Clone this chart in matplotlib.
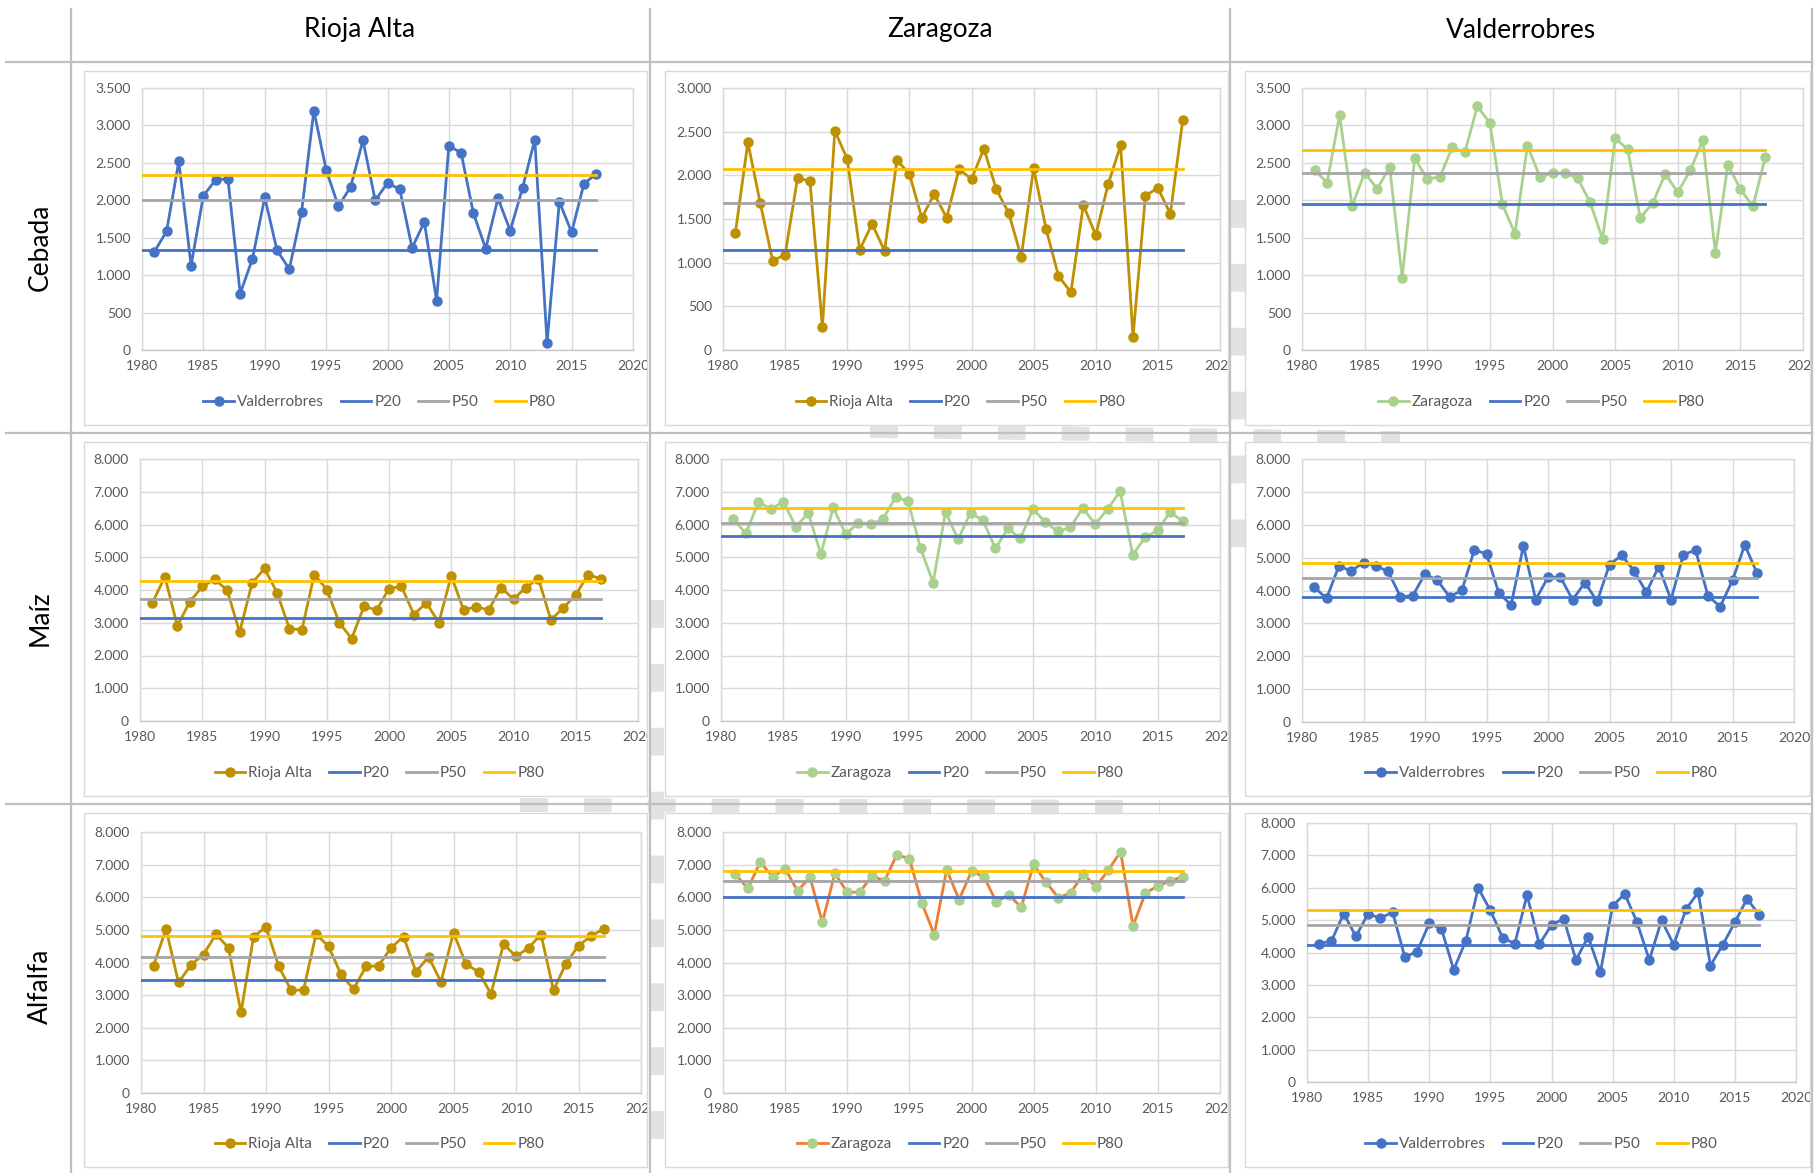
import matplotlib
matplotlib.use("Agg")
import matplotlib.pyplot as plt
from matplotlib.lines import Line2D
from matplotlib.patches import Rectangle
from matplotlib.ticker import FuncFormatter, MultipleLocator
from matplotlib.transforms import Bbox, TransformedBbox

plt.rcParams['font.family'] = ['Lato', 'DejaVu Sans']

# ---------------- data ----------------
years = list(range(1981, 2018))
pct_years = [1980, 2017]

col_titles = ["Rioja Alta", "Zaragoza", "Valderrobres"]
row_titles = ["Cebada", "Maíz", "Alfalfa"]
legend_names = [["Valderrobres", "Rioja Alta", "Zaragoza"],
                ["Rioja Alta", "Zaragoza", "Valderrobres"],
                ["Rioja Alta", "Zaragoza", "Valderrobres"]]

cebada_1 = [1310, 1585, 2520, 1127, 2062, 2271, 2289, 753, 1220, 2040,
            1331, 1082, 1844, 3197, 2409, 1919, 2182, 2801, 1999, 2231,
            2146, 1363, 1710, 659, 2730, 2632, 1826, 1354, 2026, 1594,
            2164, 2810, 98, 1982, 1572, 2218, 2356]
cebada_2 = [1345, 2377, 1682, 1020, 1093, 1972, 1930, 260, 2511, 2186,
            1147, 1445, 1135, 2171, 2018, 1514, 1785, 1514, 2072, 1957,
            2305, 1838, 1567, 1066, 2083, 1387, 848, 661, 1659, 1315,
            1900, 2343, 153, 1766, 1857, 1559, 2630]
cebada_3 = [2408, 2234, 3139, 1922, 2368, 2154, 2439, 963, 2559, 2287,
            2310, 2707, 2640, 3255, 3032, 1944, 1556, 2729, 2310, 2363,
            2363, 2296, 1975, 1480, 2827, 2684, 1766, 1962, 2354, 2105,
            2399, 2800, 1302, 2475, 2149, 1917, 2582]
maiz_1 = [3618, 4402, 2904, 3638, 4107, 4321, 3995, 2711, 4209, 4657,
          3923, 2823, 2782, 4473, 4015, 3006, 2517, 3505, 3383, 4045,
          4107, 3251, 3607, 3006, 4433, 3383, 3495, 3383, 4076, 3719,
          4076, 4351, 3088, 3454, 3852, 4473, 4341]
maiz_2 = [6155, 5727, 6695, 6471, 6695, 5931, 6348, 5095, 6522, 5696,
          6053, 6002, 6175, 6838, 6705, 5268, 4229, 6389, 5543, 6359,
          6124, 5268, 5880, 5574, 6471, 6073, 5788, 5910, 6501, 6012,
          6481, 7011, 5075, 5605, 5818, 6379, 6104]
maiz_3 = [4096, 3761, 4747, 4595, 4849, 4747, 4584, 3812, 3842, 4503,
          4310, 3812, 4005, 5225, 5123, 3924, 3558, 5357, 3720, 4401,
          4411, 3720, 4239, 3670, 4788, 5072, 4595, 3944, 4727, 3720,
          5093, 5225, 3842, 3507, 4310, 5387, 4523]
alfalfa_1 = [3898, 5031, 3388, 3929, 4245, 4867, 4449, 2469, 4786, 5092,
             3898, 3153, 3153, 4867, 4500, 3633, 3184, 3878, 3898, 4449,
             4796, 3714, 4173, 3408, 4918, 3949, 3714, 3041, 4571, 4184,
             4449, 4857, 3153, 3969, 4520, 4806, 5031]
alfalfa_2 = [6702, 6273, 7080, 6621, 6876, 6192, 6610, 5231, 6733, 6151,
             6161, 6651, 6508, 7305, 7183, 5834, 4853, 6845, 5926, 6794,
             6631, 5854, 6079, 5691, 7009, 6457, 5987, 6140, 6723, 6314,
             6825, 7397, 5119, 6130, 6345, 6508, 6631]
alfalfa_3 = [4273, 4355, 5199, 4499, 5199, 5055, 5251, 3861, 4026, 4901,
             4726, 3470, 4366, 5992, 5302, 4458, 4273, 5776, 4252, 4849,
             5045, 3768, 4489, 3387, 5447, 5807, 4932, 3768, 4994, 4242,
             5333, 5858, 3593, 4232, 4932, 5663, 5148]

series = [[cebada_1, cebada_2, cebada_3],
          [maiz_1, maiz_2, maiz_3],
          [alfalfa_1, alfalfa_2, alfalfa_3]]

p20 = [[1340, 1143, 1949], [3139, 5635, 3812], [3459, 5997, 4221]]
p50 = [[2008, 1682, 2359], [3730, 6053, 4381], [4163, 6508, 4839]]
p80 = [[2338, 2075, 2675], [4280, 6501, 4839], [4806, 6815, 5302]]

y_max = [[3500, 3000, 3500], [8000, 8000, 8000], [8000, 8000, 8000]]
y_step = [[500, 500, 500], [1000, 1000, 1000], [1000, 1000, 1000]]

# ---------------- styles ----------------
BLUE = '#4472C4'
GOLD = '#BF9000'
GREEN = '#A9D18E'
ORANGE = '#ED7D31'
GREY = '#A5A5A5'
YELLOW = '#FFC000'
TXT = '#595959'
GRID = '#D9D9D9'

line_col = [[BLUE, GOLD, GREEN], [GOLD, GREEN, BLUE], [GOLD, ORANGE, BLUE]]
mark_col = [[BLUE, GOLD, GREEN], [GOLD, GREEN, BLUE], [GOLD, GREEN, BLUE]]

# ---------------- layout (pixels) ----------------
W, H = 1819, 1173
fig = plt.figure(figsize=(W / 100, H / 100), dpi=100)
fig.patch.set_facecolor('white')


def fx(x):
    return x / W


def fy(y):
    return 1 - y / H


box_x = [(84, 647), (665, 1228), (1245, 1810)]
box_y = [(71, 425), (442, 796), (813, 1167)]
plot_x = [[(142, 633), (723, 1220), (1302, 1803)],
          [(140, 638), (721, 1220), (1302, 1794)],
          [(141, 641), (723, 1220), (1307, 1796)]]
plot_y = [[(350, 88), (350, 88), (350, 88)],
          [(721, 459), (721, 459), (722, 459)],
          [(1093, 832), (1093, 832), (1082, 823)]]
legend_y = [402, 773, 1144]

# faint watermark-like dashed strokes (behind chart boxes)
wm = dict(color='#E2E2E2', lw=10, solid_capstyle='butt', zorder=0.2,
          dashes=(2.0, 2.6), transform=fig.transFigure)
for (xa, ya, xb, yb) in [(870, 431, 1400, 438), (520, 805, 1160, 807),
                         (657, 600, 657, 1173), (1238, 200, 1238, 580)]:
    fig.add_artist(Line2D([fx(xa), fx(xb)], [fy(ya), fy(yb)], **wm))

# table lines
tl = dict(color='#BFBFBF', lw=1.6, zorder=0.5, transform=fig.transFigure)
fig.add_artist(Line2D([fx(6), fx(1812)], [fy(61.5), fy(61.5)], **tl))
for yy in (433, 804):
    fig.add_artist(Line2D([fx(6), fx(1812)], [fy(yy), fy(yy)], **tl))
for xx in (71, 650, 1230, 1812):
    fig.add_artist(Line2D([fx(xx), fx(xx)], [fy(9), fy(1173)], **tl))

# header titles
col_centers = [360, 940, 1521]
for c, t in enumerate(col_titles):
    fig.text(fx(col_centers[c]), fy(30), t, ha='center', va='center',
             fontsize=19, color='#000000')
row_centers = [247, 618, 986]
for r, t in enumerate(row_titles):
    fig.text(fx(40), fy(row_centers[r]), t, ha='center', va='center',
             rotation=90, fontsize=19, color='#000000')

fmt = FuncFormatter(lambda v, p: f"{int(round(v)):,}".replace(",", "."))

for r in range(3):
    for c in range(3):
        bl, br = box_x[c]
        bt, bb = box_y[r]
        fig.add_artist(Rectangle((fx(bl), fy(bb)), fx(br - bl), (bb - bt) / H,
                                 transform=fig.transFigure, facecolor='white',
                                 edgecolor=GRID, lw=1.0, zorder=1))
        x0, x1 = plot_x[r][c]
        y0, y1 = plot_y[r][c]
        ax = fig.add_axes([fx(x0), fy(y0), (x1 - x0) / W, (y0 - y1) / H])
        ax.set_zorder(2)
        ax.set_facecolor('none')
        ax.set_xlim(1980, 2020)
        ax.set_ylim(0, y_max[r][c])
        ax.xaxis.set_major_locator(MultipleLocator(5))
        ax.yaxis.set_major_locator(MultipleLocator(y_step[r][c]))
        ax.yaxis.set_major_formatter(fmt)
        ax.grid(True, color=GRID, lw=1.0, zorder=0)
        ax.set_axisbelow(True)
        for s in ax.spines.values():
            s.set_color(GRID)
            s.set_linewidth(1.0)
        ax.spines['bottom'].set_color('#C8C8C8')
        ax.tick_params(length=0, labelsize=10, labelcolor=TXT)
        ax.tick_params(axis='x', pad=7)
        ax.tick_params(axis='y', pad=8)

        h_s, = ax.plot(years, series[r][c], color=line_col[r][c], lw=2.0,
                       marker='o', markersize=6.5,
                       markerfacecolor=mark_col[r][c],
                       markeredgecolor=mark_col[r][c], zorder=3)
        h20, = ax.plot(pct_years, [p20[r][c]] * 2, color=BLUE, lw=2.0, zorder=4)
        h50, = ax.plot(pct_years, [p50[r][c]] * 2, color=GREY, lw=2.0, zorder=4)
        h80, = ax.plot(pct_years, [p80[r][c]] * 2, color=YELLOW, lw=2.0, zorder=4)

        # clip tick labels to the chart box (like Excel)
        clip = TransformedBbox(Bbox([[fx(bl), fy(bb)], [fx(br), fy(bt)]]),
                               fig.transFigure)
        fig.canvas.draw()
        for lab in ax.get_xticklabels() + ax.get_yticklabels():
            lab.set_clip_box(clip)
            lab.set_clip_on(True)

        leg = fig.legend([h_s, h20, h50, h80],
                         [legend_names[r][c], 'P20', 'P50', 'P80'],
                         loc='center',
                         bbox_to_anchor=(fx((bl + br) / 2 + 14), fy(legend_y[r])),
                         ncol=4, frameon=False, fontsize=11,
                         handlelength=2.0, handletextpad=0.2,
                         columnspacing=1.1, labelcolor=TXT)
        leg.set_zorder(3)

fig.savefig('out.png', dpi=100, facecolor='white')
